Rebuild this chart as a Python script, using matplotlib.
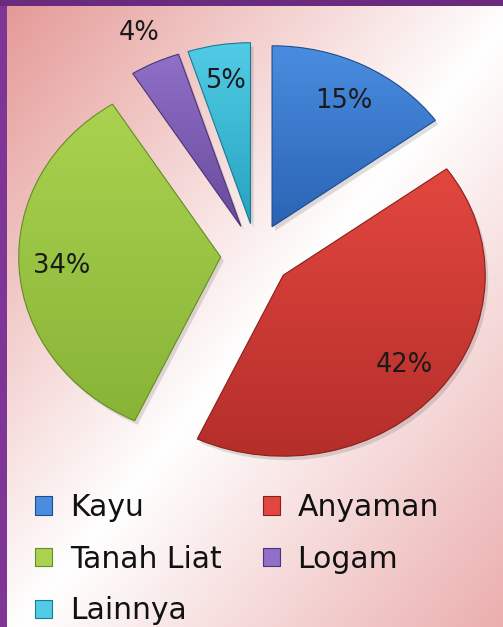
import numpy as np
import matplotlib
matplotlib.use("Agg")
import matplotlib.pyplot as plt
from matplotlib.patches import Patch, Wedge, Rectangle
from matplotlib.colors import to_rgb

# ---- data ----
categories = ["Kayu", "Anyaman", "Tanah Liat", "Logam", "Lainnya"]
values = [15, 42, 34, 4, 5]
light_colors = ["#4A8DE0", "#E2473F", "#AAD250", "#9070C8", "#52CCE6"]
dark_colors = ["#2A63B4", "#B52E2A", "#88B436", "#684A9C", "#26A3C0"]
edge_colors = ["#1E4C8C", "#86201C", "#668C22", "#4D3476", "#1A7A92"]
label_dist = [0.78, 0.78, 0.79, 1.18, 0.80]

W, H = 503, 627
DPI = 100
fig = plt.figure(figsize=(W / DPI, H / DPI), dpi=DPI)

# ---- background gradient ----
bg = fig.add_axes([0, 0, 1, 1], zorder=0)
bg.set_axis_off()
yy, xx = np.mgrid[0:H, 0:W]
t = (xx / W + yy / H) / 2.0
c0 = np.array(to_rgb("#E49895"))
cw = np.array([1.0, 1.0, 1.0])
c1 = np.array(to_rgb("#EBAEAE"))
m = 0.52
a = np.clip(t / m, 0, 1)[..., None]
b = np.clip((t - m) / (1 - m), 0, 1)[..., None]
lo = c0 * (1 - a) + cw * a
hi = cw * (1 - b) + c1 * b
img = np.where((t < m)[..., None], lo, hi)
bg.imshow(img, extent=(0, W, H, 0), aspect="auto", interpolation="bilinear")
bg.set_xlim(0, W)
bg.set_ylim(H, 0)
# purple frame (left and top)
bg.add_patch(Rectangle((0, 0), 7, H, color="#7F3595", lw=0))
bg.add_patch(Rectangle((0, 0), W, 6, color="#6A2A7E", lw=0))

# ---- pie ----
cx_px, cy_px = 256, 255
rx_px, ry_px = 202, 181
ax = fig.add_axes([0, 0, 1, 1], zorder=1)
ax.patch.set_alpha(0)
wedges, _ = ax.pie(values, startangle=90, counterclock=False,
                   explode=[0.175] * len(values), radius=1.0,
                   wedgeprops=dict(linewidth=0))
ax.set_aspect("auto")
ax.set_axis_off()

grad = np.linspace(0, 1, 256)[:, None]
for i, w in enumerate(wedges):
    cl = np.array(to_rgb(light_colors[i]))
    cd = np.array(to_rgb(dark_colors[i]))
    w.set_facecolor("none")
    w.set_edgecolor(edge_colors[i])
    w.set_linewidth(0.8)
    w.set_zorder(3)
    # shadow
    sx, sy = 3 / rx_px, -4 / ry_px
    sh = Wedge((w.center[0] + sx, w.center[1] + sy), w.r, w.theta1, w.theta2,
               facecolor="black", alpha=0.12, lw=0, zorder=1)
    ax.add_patch(sh)
    # gradient fill clipped to wedge
    bb = w.get_path().get_extents(w.get_patch_transform())
    g = cl[None, None, :] * (1 - grad[..., None]) + cd[None, None, :] * grad[..., None]
    g = np.repeat(g, 4, axis=1)
    im = ax.imshow(g, extent=(bb.x0, bb.x1, bb.y0, bb.y1), origin="upper",
                   aspect="auto", interpolation="bilinear", zorder=2)
    im.set_clip_path(w)
    # label
    th = np.deg2rad((w.theta1 + w.theta2) / 2)
    d = label_dist[i]
    ax.text(w.center[0] + d * np.cos(th), w.center[1] + d * np.sin(th),
            f"{values[i]}%", ha="center", va="center", fontsize=18.5,
            color="#1a1a1a", zorder=5, family="DejaVu Sans")

ax.set_aspect("auto")
ax.set_xlim(-cx_px / rx_px, (W - cx_px) / rx_px)
ax.set_ylim(-(H - cy_px) / ry_px, cy_px / ry_px)

# ---- legend (row-wise order for 2 columns) ----
handles = [Patch(facecolor=light_colors[i], edgecolor=edge_colors[i], lw=0.8)
           for i in range(len(categories))]
order = [0, 2, 4, 1, 3]
leg = fig.legend([handles[i] for i in order], [categories[i] for i in order],
                 ncol=2, loc="upper left", bbox_to_anchor=(35 / W, 1 - 493 / H),
                 frameon=False, fontsize=21.5, handlelength=0.57,
                 handleheight=0.57, handletextpad=0.6, columnspacing=1.37,
                 labelspacing=0.76, borderpad=0, borderaxespad=0)
for txt in leg.get_texts():
    txt.set_color("#111111")

fig.savefig("out.png", dpi=DPI)
